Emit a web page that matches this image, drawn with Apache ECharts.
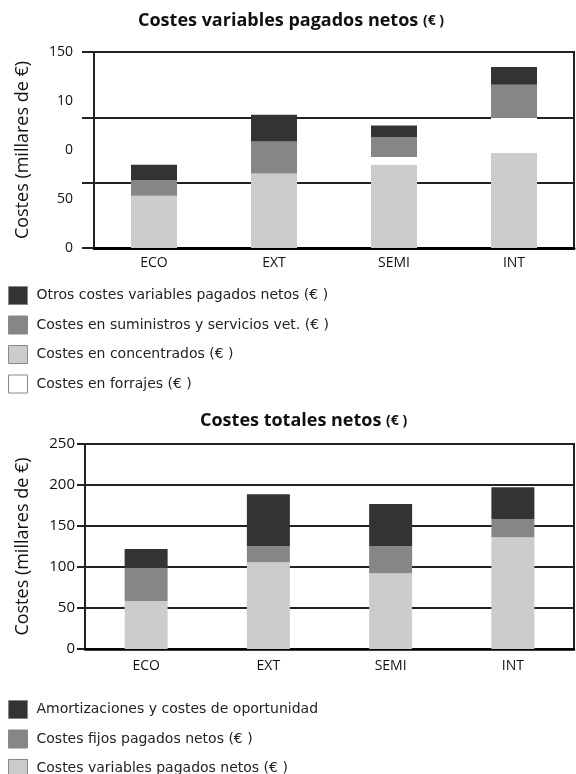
<!DOCTYPE html>
<html>
<head>
<meta charset="utf-8">
<title>Costes</title>
<script src="https://cdn.jsdelivr.net/npm/echarts@6/dist/echarts.min.js"></script>
<style>
    html, body { margin: 0; padding: 0; background: #fff; }
    #main { width: 576px; height: 774px; }
</style>
</head>
<body>
<div id="main"></div>
<script>
//categorias del eje x
var categorias = ['ECO', 'EXT', 'SEMI', 'INT'];

//1. costes variables pagados netos (millares de €)
var concentrados = [40.0, 57.1, 63.8, 72.7];
var forrajes = [0, 0, 5.9, 26.8];
var suministros = [12.0, 24.5, 15.3, 25.5];
var otrosVariables = [11.7, 20.4, 8.7, 13.5];
//etiquetas tal como salen en el eje (0, 37.5, 75, 112.5, 150)
var etiquetasEje1 = ['0', '50', '0', '10', '150'];

//2. costes totales netos (millares de €)
var variablesPagados = [58.5, 105.7, 92.3, 136.2];
var fijosPagados = [40.6, 19.5, 32.9, 22.0];
var amortizaciones = [22.9, 63.5, 51.6, 39.0];

var nombres1 = ['Otros costes variables pagados netos (€ )', 'Costes en suministros y servicios vet. (€ )', 'Costes en concentrados (€ )', 'Costes en forrajes (€ )'];
var nombres2 = ['Amortizaciones y costes de oportunidad', 'Costes fijos pagados netos (€ )', 'Costes variables pagados netos (€ )'];

var oscuro = '#333333';
var medio = '#868686';
var claro = '#cccccc';
var fuente = 'Open Sans';

function barra(nombre, datos, color, eje, ancho) {
    return {
        name: nombre,
        type: 'bar',
        stack: 'p' + eje,
        xAxisIndex: eje,
        yAxisIndex: eje === 0 ? 0 : 2,
        barWidth: ancho,
        data: datos,
        itemStyle: { color: color },
        silent: true
    };
}

function leyenda(datos, top) {
    return {
        data: datos,
        orient: 'vertical',
        left: 8,
        top: top,
        height: 120,
        padding: 0,
        icon: 'rect',
        itemWidth: 19,
        itemHeight: 18,
        itemGap: 10.5,
        selectedMode: false,
        itemStyle: { borderColor: '#888', borderWidth: 1 },
        textStyle: { fontSize: 14, color: '#222', fontFamily: 'DejaVu Sans', padding: [0, 0, 0, 4] }
    };
}

var richTitulo = {
    b: { fontSize: 18, fontWeight: 'bold', color: '#111', fontFamily: fuente, lineHeight: 22 },
    s: { fontSize: 14, color: '#111', fontFamily: fuente, lineHeight: 22 }
};

var option = {
    animation: false,
    backgroundColor: '#fff',
    title: [
        { text: '{b|Costes variables pagados netos }{s|(€ )}', left: 138, top: 10, padding: 0, textStyle: { rich: richTitulo } },
        { text: '{b|Costes totales netos }{s|(€ )}', left: 200, top: 410, padding: 0, textStyle: { rich: richTitulo } }
    ],
    legend: [leyenda(nombres1, 286), leyenda(nombres2, 700)],
    grid: [
        { left: 94, right: 2, top: 52, height: 196, show: true, borderColor: '#222', borderWidth: 2 },
        { left: 85, right: 2, top: 444, height: 205, show: true, borderColor: '#222', borderWidth: 2 }
    ],
    xAxis: [
        {
            gridIndex: 0, type: 'category', data: categorias,
            axisLine: { lineStyle: { color: '#000', width: 3 } },
            axisTick: { length: 12, lineStyle: { color: '#222', width: 2 } },
            axisLabel: { margin: 8, fontSize: 14, color: '#111', fontFamily: fuente }
        },
        {
            gridIndex: 1, type: 'category', data: categorias,
            axisLine: { lineStyle: { color: '#000', width: 2.5 } },
            axisTick: { length: 15, lineStyle: { color: '#222', width: 2 } },
            axisLabel: { margin: 10, fontSize: 14, color: '#111', fontFamily: fuente }
        }
    ],
    yAxis: [
        {
            gridIndex: 0, type: 'value', position: 'left', min: 0, max: 150, interval: 50,
            axisLine: { show: true, lineStyle: { color: '#222', width: 2 } },
            axisTick: { show: true, length: 12, lineStyle: { color: '#222', width: 2 } },
            axisLabel: { show: false },
            splitLine: { lineStyle: { color: '#222', width: 2 } }
        },
        {
            gridIndex: 0, type: 'value', position: 'left', min: 0, max: 150, interval: 37.5,
            axisLine: { show: false }, axisTick: { show: false }, splitLine: { show: false },
            axisLabel: {
                margin: 21, fontSize: 14, color: '#111', fontFamily: fuente,
                formatter: function (v) { return etiquetasEje1[Math.round(v / 37.5)]; }
            },
            name: 'Costes (millares de €)', nameLocation: 'middle', nameRotate: 90, nameGap: 62,
            nameTextStyle: { fontSize: 18, color: '#111', fontFamily: fuente }
        },
        {
            gridIndex: 1, type: 'value', position: 'left', min: 0, max: 250, interval: 50,
            axisLine: { show: true, lineStyle: { color: '#222', width: 2 } },
            axisTick: { show: true, length: 8, lineStyle: { color: '#222', width: 2 } },
            axisLabel: { margin: 10, fontSize: 15, color: '#111', fontFamily: fuente },
            splitLine: { lineStyle: { color: '#222', width: 2 } },
            name: 'Costes (millares de €)', nameLocation: 'middle', nameRotate: 90, nameGap: 53,
            nameTextStyle: { fontSize: 18, color: '#111', fontFamily: fuente }
        }
    ],
    series: [
        barra(nombres1[2], concentrados, claro, 0, 46),
        barra(nombres1[3], forrajes, '#ffffff', 0, 46),
        barra(nombres1[1], suministros, medio, 0, 46),
        barra(nombres1[0], otrosVariables, oscuro, 0, 46),
        barra(nombres2[2], variablesPagados, claro, 1, 43),
        barra(nombres2[1], fijosPagados, medio, 1, 43),
        barra(nombres2[0], amortizaciones, oscuro, 1, 43)
    ]
};

var myChart = echarts.init(document.getElementById('main'), null, { renderer: 'canvas' });
myChart.setOption(option);
</script>
</body>
</html>
